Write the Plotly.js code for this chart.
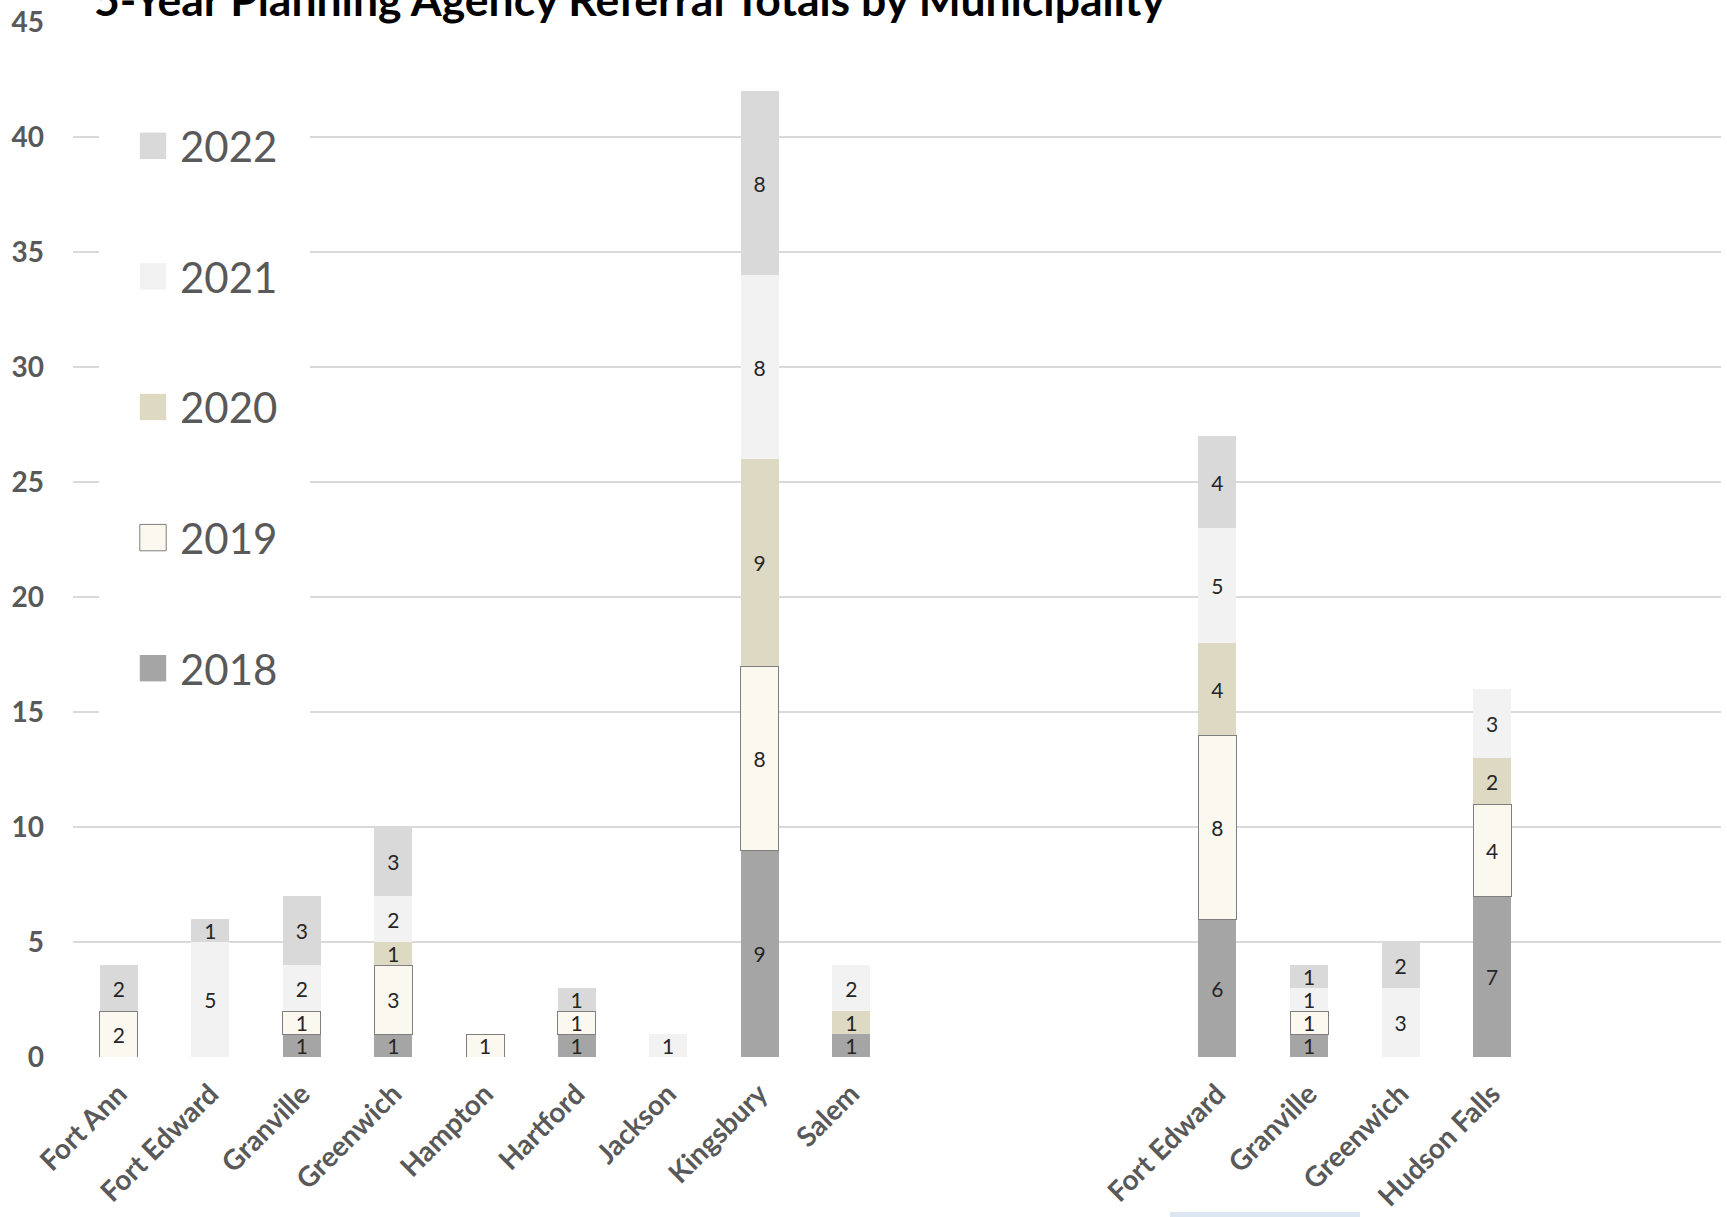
<!DOCTYPE html>
<html>
<head>
<meta charset="utf-8">
<script src="https://cdn.plot.ly/plotly-3.0.1.min.js"></script>
<style>
  html, body { margin: 0; padding: 0; background: #ffffff; }
  #chart { width: 1727px; height: 1217px; }
</style>
</head>
<body>
<div id="chart"></div>
<script>
// ---- Data ----
const towns = ["Fort Ann", "Fort Edward", "Granville", "Greenwich", "Hampton", "Hartford", "Jackson", "Kingsbury", "Salem"];
const villages = ["Fort Edward", "Granville", "Greenwich", "Hudson Falls"];
const years = ["2018", "2019", "2020", "2021", "2022"];

// values: towns (9) followed by villages (4); null = no referrals that year
const v2018 = [null, null, 1, 1, null, 1, null, 9, 1,   6, 1, null, 7];
const v2019 = [2, null, 1, 3, 1, 1, null, 8, null,      8, 1, null, 4];
const v2020 = [null, null, null, 1, null, null, null, 9, 1,   4, null, null, 2];
const v2021 = [null, 5, 2, 2, null, null, 1, 8, 2,      5, 1, 3, 3];
const v2022 = [2, 1, 3, 3, null, 1, null, 8, null,      4, 1, 2, null];

const title = "5-Year Planning Agency Referral Totals by Municipality";

// ---- Category keys (unique), with blank spacer slots between/after groups ----
const townKeys = towns.map(t => t + " (town)");
const villageKeys = villages.map(v => v + " (village)");
const spacersMid = ["_s1", "_s2", "_s3"];
const spacersEnd = ["_s4", "_s5"];
const categoryOrder = [...townKeys, ...spacersMid, ...villageKeys, ...spacersEnd];
const xKeys = [...townKeys, ...villageKeys];
const tickLabels = [...towns, ...villages];

const seriesValues = [v2018, v2019, v2020, v2021, v2022];
const colors = ["#a5a5a5", "#fbf8ef", "#ddd9c3", "#f2f2f2", "#d9d9d9"];
const lineColors = ["#a5a5a5", "#7f7f7f", "#ddd9c3", "#f2f2f2", "#d9d9d9"];
const lineWidths = [0, 1, 0, 0, 0];

const traces = years.map((yr, i) => ({
  type: "bar",
  name: yr,
  legendgroup: yr,
  legendrank: years.length - i,
  x: xKeys,
  y: seriesValues[i],
  text: seriesValues[i].map(v => v == null ? "" : String(v)),
  textposition: "inside",
  insidetextanchor: "middle",
  textangle: 0,
  constraintext: "none",
  textfont: { family: "Lato, 'Open Sans', sans-serif", size: 21, color: "#262626" },
  marker: { color: colors[i], line: { color: lineColors[i], width: lineWidths[i] } },
  hoverinfo: "x+y+name"
}));

const plotLeft = 73, plotRight = 1721, plotTop = 22, plotBottom = 1057;
const pw = plotRight - plotLeft, ph = plotBottom - plotTop;
const px = X => (X - plotLeft) / pw;
const py = Y => (plotBottom - Y) / ph;
const legendBorder = 27;

const layout = {
  width: 1727,
  height: 1217,
  paper_bgcolor: "#ffffff",
  plot_bgcolor: "#ffffff",
  margin: { l: plotLeft, r: 1727 - plotRight, t: plotTop, b: 1217 - plotBottom, pad: 0 },
  font: { family: "Lato, 'Open Sans', sans-serif", color: "#595959" },
  title: {
    text: "<b>" + title + "</b>",
    font: { family: "Lato, 'Open Sans', sans-serif", size: 44.5, color: "#000000" },
    x: 94 / 1727, xref: "container", xanchor: "left",
    y: 1, yref: "container", yanchor: "middle"
  },
  barmode: "stack",
  bargap: 0.585,
  uniformtext: { mode: "show", minsize: 21 },
  showlegend: true,
  legend: {
    x: px(126 - legendBorder), xanchor: "left",
    y: py(112 - legendBorder), yanchor: "top",
    bgcolor: "#ffffff",
    bordercolor: "#ffffff",
    borderwidth: legendBorder,
    traceorder: "grouped",
    tracegroupgap: 73,
    itemwidth: 44,
    font: { family: "Lato, 'Open Sans', sans-serif", size: 42, color: "#595959" }
  },
  xaxis: {
    type: "category",
    categoryorder: "array",
    categoryarray: categoryOrder,
    range: [-0.5, categoryOrder.length - 0.5],
    tickmode: "array",
    tickvals: xKeys,
    ticktext: tickLabels,
    tickangle: -45,
    ticks: "",
    ticklabelstandoff: 14,
    tickfont: { family: "Lato, 'Open Sans', sans-serif", size: 28, color: "#595959", weight: "bold" },
    showgrid: false,
    zeroline: false,
    showline: false,
    fixedrange: true
  },
  yaxis: {
    range: [0, 45],
    tick0: 0,
    dtick: 5,
    ticks: "",
    ticklabelstandoff: 28,
    tickfont: { family: "Lato, 'Open Sans', sans-serif", size: 28, color: "#595959", weight: "bold" },
    showgrid: true,
    gridcolor: "#d9d9d9",
    gridwidth: 2,
    zeroline: false,
    showline: false,
    fixedrange: true
  },
  shapes: [
    { type: "rect", xref: "paper", yref: "paper", layer: "above",
      x0: px(1170), x1: px(1360), y0: py(1212), y1: py(1240),
      fillcolor: "#dce6f2", line: { width: 0 } }
  ]
};

Plotly.newPlot("chart", traces, layout, { displayModeBar: false, staticPlot: true }).then(gd => {
  // enlarge legend swatches to match the reference's larger squares
  gd.querySelectorAll(".legend .legendpoints path").forEach(p => {
    const t = p.getAttribute("transform") || "";
    p.setAttribute("transform", t + " scale(2.2)");
    p.style.vectorEffect = "non-scaling-stroke";
  });
});
</script>
</body>
</html>
